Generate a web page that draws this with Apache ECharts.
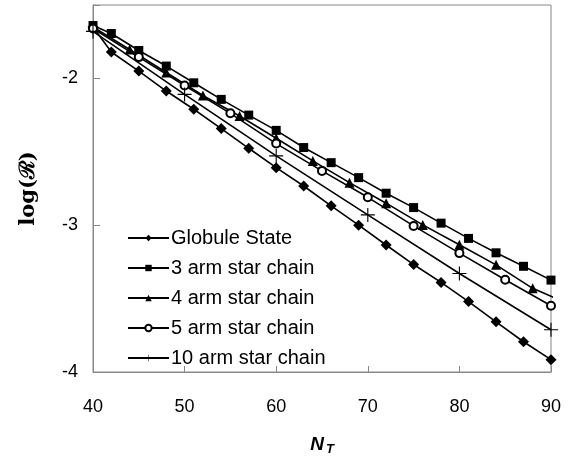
<!DOCTYPE html>
<html>
<head>
<meta charset="utf-8">
<script src="https://cdn.jsdelivr.net/npm/echarts@6/dist/echarts.min.js"></script>
<style>
  html, body { margin: 0; padding: 0; background: #fff; }
  #chart { width: 577px; height: 461px; }
</style>
</head>
<body>
<div id="chart"></div>
<script>
// values: N_T and log(R) for each chain type
const globuleN = [40, 42, 45, 48, 51, 54, 57, 60, 63, 66, 69, 72, 75, 78, 81, 84, 87, 90]
const globuleLogR = [-1.65, -1.82, -1.95, -2.086, -2.21, -2.342, -2.476, -2.608, -2.733, -2.868, -3.0, -3.135, -3.268, -3.39, -3.52, -3.658, -3.794, -3.916]

const arm3N = [40, 42, 45, 48, 51, 54, 57, 60, 63, 66, 69, 72, 75, 78, 81, 84, 87, 90]
const arm3LogR = [-1.64, -1.694, -1.81, -1.916, -2.03, -2.143, -2.25, -2.354, -2.471, -2.574, -2.676, -2.782, -2.88, -2.986, -3.09, -3.188, -3.28, -3.374]

const arm4N = [40, 44, 48, 52, 56, 60, 64, 68, 72, 76, 80, 84, 88, 91]
const arm4LogR = [-1.65, -1.803, -1.96, -2.116, -2.256, -2.408, -2.562, -2.71, -2.85, -2.998, -3.133, -3.27, -3.43, -3.51]

const arm5N = [40, 45, 50, 55, 60, 65, 70, 75, 80, 85, 90, 91]
const arm5LogR = [-1.66, -1.855, -2.048, -2.238, -2.444, -2.63, -2.81, -3.005, -3.19, -3.372, -3.549, -3.583]

const arm10N = [40, 50, 60, 70, 80, 90]
const arm10LogR = [-1.68, -2.109, -2.528, -2.93, -3.329, -3.712]

const seriesNames = ['Globule State', '3 arm star chain', '4 arm star chain', '5 arm star chain', '10 arm star chain']
const xTicks = [40, 50, 60, 70, 80, 90]

const plusPath = 'path://M4.6,0H5.4V4.6H10V5.4H5.4V10H4.6V5.4H0V4.6H4.6Z'

const toPairs = (xs, ys) => xs.map((x, i) => {
  // points past N=90 only carry the line out to the frame edge
  if (x > 90) return { value: [x, ys[i]], symbol: 'none' }
  return [x, ys[i]]
})

const makeSeries = (name, xs, ys, symbol, size) => ({
  name: name,
  type: 'line',
  data: toPairs(xs, ys),
  symbol: symbol,
  symbolSize: size,
  showSymbol: true,
  clip: false,
  lineStyle: { color: '#000', width: 1.6 },
  itemStyle: { color: '#000', borderColor: '#000', borderWidth: symbol === 'emptyCircle' ? 1.2 : 0 },
  emphasis: { disabled: true },
  z: 3
})

const chart = echarts.init(document.getElementById('chart'))

const options = {
  animation: false,
  backgroundColor: '#fff',
  textStyle: { fontFamily: 'Liberation Sans, Arial, sans-serif', color: '#000' },
  grid: {
    left: 93,
    right: 26,
    top: 5,
    bottom: 88,
    show: true,
    borderColor: '#888',
    borderWidth: 1
  },
  legend: {
    orient: 'vertical',
    left: 122,
    top: 223,
    itemWidth: 41,
    itemHeight: 8,
    itemGap: 10,
    data: seriesNames,
    textStyle: { fontSize: 20, color: '#000', fontFamily: 'Liberation Sans, Arial, sans-serif', padding: [0, 0, 0, -3] },
    selectedMode: false
  },
  xAxis: {
    type: 'value',
    min: 40,
    max: 90,
    interval: 10,
    name: '{n|N}{t|T}',
    nameLocation: 'middle',
    nameGap: 61,
    nameTextStyle: {
      rich: {
        n: { fontSize: 19, fontWeight: 'bold', fontStyle: 'italic', fontFamily: 'Liberation Sans, Arial, sans-serif', color: '#000' },
        t: { fontSize: 13, fontWeight: 'bold', fontStyle: 'italic', fontFamily: 'Liberation Sans, Arial, sans-serif', color: '#000', padding: [10, 0, 0, 2] }
      }
    },
    axisLine: { show: true, lineStyle: { color: '#888', width: 1 } },
    axisTick: { show: true, inside: true, length: 6, lineStyle: { color: '#888' } },
    axisLabel: {
      fontSize: 18,
      color: '#000',
      margin: 26,
      formatter: v => xTicks.includes(v) ? String(v) : ''
    },
    splitLine: { show: false }
  },
  yAxis: {
    type: 'value',
    min: -4,
    max: -1.5,
    interval: 1,
    name: 'log(ℛ)',
    nameLocation: 'middle',
    nameRotate: 90,
    nameGap: 54,
    nameTextStyle: { fontSize: 21, fontWeight: 'bold', fontFamily: 'DejaVu Serif, Liberation Serif, serif', color: '#000' },
    axisLine: { show: true, lineStyle: { color: '#888', width: 1 } },
    axisTick: { show: true, inside: true, length: 7, lineStyle: { color: '#888' } },
    axisLabel: {
      fontSize: 18,
      color: '#000',
      margin: 15,
      padding: [8, 0, 0, 0],
      formatter: v => Number.isInteger(v) ? String(v) : ''
    },
    splitLine: { show: false }
  },
  series: [
    makeSeries(seriesNames[0], globuleN, globuleLogR, 'diamond', 11),
    makeSeries(seriesNames[1], arm3N, arm3LogR, 'rect', 9),
    makeSeries(seriesNames[2], arm4N, arm4LogR, 'triangle', 10),
    makeSeries(seriesNames[3], arm5N, arm5LogR, 'emptyCircle', 8),
    makeSeries(seriesNames[4], arm10N, arm10LogR, plusPath, 14)
  ]
}

chart.setOption(options)
</script>
</body>
</html>
